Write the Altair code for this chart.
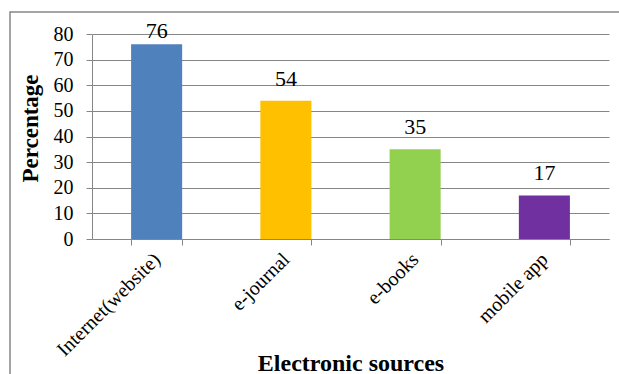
import altair as alt
import pandas as pd

categories = ["Internet(website)", "e-journal", "e-books", "mobile app"]
values = [76, 54, 35, 17]
colors = ["#4F81BD", "#FFC000", "#92D050", "#7030A0"]
y_ticks = [0, 10, 20, 30, 40, 50, 60, 70, 80]

df = pd.DataFrame({"source": categories, "pct": values, "color": colors})

FONT = "Liberation Serif"
GRAY = "#868686"

x_axis = alt.Axis(
    labelAngle=-45,
    labelAlign="right",
    labelBaseline="middle",
    labelPadding=11,
    labelFont=FONT,
    labelFontSize=20,
    labelColor="black",
    labelOverlap=False,
    tickBand="extent",
    tickSize=6,
    tickColor=GRAY,
    domainColor=GRAY,
    titleFont=FONT,
    titleFontSize=24,
    titleFontWeight="bold",
    titleColor="black",
    titleY=131,
    titleBaseline="alphabetic",
    grid=False,
)

y_axis = alt.Axis(
    values=y_ticks,
    tickCount=9,
    labelFont=FONT,
    labelFontSize=20,
    labelColor="black",
    labelPadding=13,
    labelOverlap=False,
    tickSize=6,
    tickColor=GRAY,
    domainColor=GRAY,
    gridColor=GRAY,
    gridWidth=1,
    titleFont=FONT,
    titleFontSize=23,
    titleFontWeight="bold",
    titleColor="black",
    titleX=-50,
    titleY=94,
    titleBaseline="bottom",
)

x_scale = alt.Scale(paddingInner=0.605, paddingOuter=0.3025)
y_scale = alt.Scale(domain=[0, 80], nice=False)

bars = alt.Chart(df).mark_bar().encode(
    x=alt.X("source:N", sort=None, title="Electronic sources", scale=x_scale, axis=x_axis),
    y=alt.Y("pct:Q", title="Percentage", scale=y_scale, axis=y_axis),
    color=alt.Color("color:N", scale=None, legend=None),
)

labels = (
    alt.Chart(df)
    .transform_calculate(label_y="min(datum.pct + 5.9, 78.3)")
    .mark_text(font=FONT, fontSize=22, color="black", baseline="alphabetic")
    .encode(
        x=alt.X("source:N", sort=None, title="Electronic sources", scale=x_scale, axis=x_axis),
        y=alt.Y("label_y:Q", title="Percentage", scale=y_scale, axis=y_axis),
        text=alt.Text("pct:Q"),
    )
)

border = (
    alt.Chart(pd.DataFrame({"a": [0]}))
    .mark_rect(filled=False, stroke=GRAY, strokeWidth=1.5)
    .encode(
        x=alt.value(-82),
        x2=alt.value(540),
        y=alt.value(-22),
        y2=alt.value(360),
    )
)

chart = (
    alt.layer(bars, labels, border)
    .properties(
        width=517,
        height=205,
        padding={"left": 92, "top": 34, "right": 10, "bottom": 135},
        autosize=alt.AutoSizeParams(type="none"),
        background="white",
    )
    .configure(font=FONT)
    .configure_view(stroke=None)
)

chart.save("out.html", embed_options={"renderer": "svg", "actions": False})
